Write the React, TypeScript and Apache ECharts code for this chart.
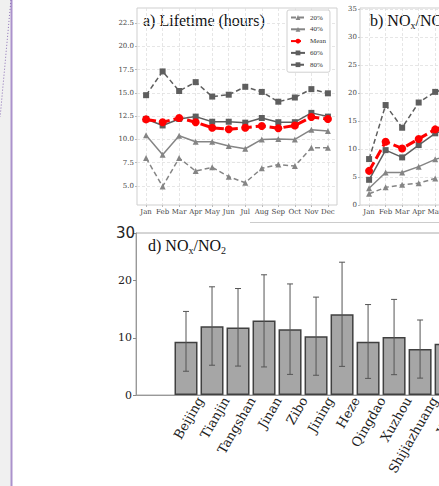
import React, { useEffect, useRef } from "react";
import * as echarts from "echarts";

// ---- data ----
const months = ["Jan", "Feb", "Mar", "Apr", "May", "Jun", "Jul", "Aug", "Sep", "Oct", "Nov", "Dec"];
const lifeTicks = [5, 7.5, 10, 12.5, 15, 17.5, 20, 22.5];
const lifeP20 = [8.0, 4.95, 8.0, 6.6, 7.0, 6.0, 5.35, 6.9, 7.3, 7.15, 9.1, 9.1];
const lifeP40 = [10.45, 8.35, 10.4, 9.75, 9.75, 9.3, 9.0, 10.0, 10.05, 10.0, 11.05, 10.9];
const lifeMean = [12.15, 11.85, 12.3, 11.85, 11.25, 11.1, 11.25, 11.45, 11.2, 11.5, 12.4, 12.2];
const lifeP60 = [12.2, 11.5, 12.2, 12.45, 11.9, 11.9, 11.8, 12.3, 11.85, 11.85, 12.85, 12.45];
const lifeP80 = [14.75, 17.3, 15.2, 16.15, 14.6, 14.8, 15.65, 15.1, 14.05, 14.5, 15.4, 14.95];

const ratioTicks = [0, 5, 10, 15, 20, 25, 30, 35];
const ratioP20 = [2.0, 3.15, 3.6, 3.9, 4.75, 5.2];
const ratioP40 = [3.0, 5.8, 5.8, 6.85, 8.15, 9.0];
const ratioMean = [6.1, 11.3, 10.1, 11.8, 13.5, 14.5];
const ratioP60 = [4.5, 9.8, 8.5, 10.7, 12.8, 13.8];
const ratioP80 = [8.2, 17.85, 13.8, 18.3, 20.2, 21.0];

const cities = ["Beijing", "Tianjin", "Tangshan", "Jinan", "Zibo", "Jining", "Heze", "Qingdao", "Xuzhou", "Shijiazhuang", "Yantai"];
const cityRatio = [9.3, 12.0, 11.8, 13.0, 11.5, 10.25, 14.1, 9.3, 10.15, 8.05, 8.95];
const cityLow = [4.15, 5.2, 5.05, 4.9, 3.6, 3.45, 5.0, 2.9, 3.55, 2.95];
const cityHigh = [14.6, 18.9, 18.6, 21.0, 19.4, 17.1, 23.2, 15.8, 16.7, 13.1];
const cityTicks = [0, 10, 20];

const SERIF_T = "Liberation Serif";
const SERIF_D = "DejaVu Serif";
const LABEL_SHIFT = 0.55;

function pctSeries(name: string, data: number[], xi: number, kind: string) {
  const base: any = {
    name,
    type: "line",
    xAxisIndex: xi,
    yAxisIndex: xi,
    data: data.map((v, i) => [i, v]),
    symbolSize: 6,
    lineStyle: { width: 1.5 },
  };
  if (kind === "p20") {
    base.symbol = "triangle";
    base.itemStyle = { color: "#858585" };
    base.lineStyle = { width: 1.5, color: "#858585", type: [5, 3] };
  } else if (kind === "p40") {
    base.symbol = "triangle";
    base.itemStyle = { color: "#858585" };
    base.lineStyle = { width: 1.5, color: "#858585" };
  } else if (kind === "mean") {
    base.symbol = "circle";
    base.symbolSize = 8;
    base.z = 4;
    base.itemStyle = { color: "#ff0000" };
    base.lineStyle = { width: 3, color: "#ff0000", type: [10, 4] };
  } else if (kind === "p60") {
    base.symbol = "rect";
    base.itemStyle = { color: "#5e5e5e" };
    base.lineStyle = { width: 1.5, color: "#5e5e5e" };
  } else {
    base.symbol = "rect";
    base.itemStyle = { color: "#5e5e5e" };
    base.lineStyle = { width: 1.5, color: "#5e5e5e", type: [5, 3] };
  }
  return base;
}

export default function App() {
  const ref = useRef<HTMLDivElement>(null);
  useEffect(() => {
    if (!ref.current) return;
    const chart = echarts.init(ref.current, null, { renderer: "svg" });
    const monthIdx = months.map((_, i) => i);
    const tickStyleSmall = { fontFamily: SERIF_D, fontSize: 7, color: "#444" };
    const splitDash = { show: true, lineStyle: { color: "#e0e0e0", type: [3, 2], width: 0.8 } };
    const gridBase = { show: true, borderWidth: 1, backgroundColor: "transparent", outerBoundsMode: "none", containLabel: false };

    const option: any = {
      animation: false,
      backgroundColor: "#ffffff",
      grid: [
        { ...gridBase, left: 137, top: 8, width: 200, height: 197, borderColor: "#cfcfcf" },
        { ...gridBase, left: 360, top: 8, width: 200, height: 197, borderColor: "#cfcfcf" },
        { ...gridBase, left: 136, top: 233, width: 340, height: 162, borderColor: "#aaaaaa" },
      ],
      xAxis: [
        {
          gridIndex: 0, type: "value", min: -0.55, max: 11.55,
          axisLine: { show: false, onZero: false },
          axisTick: { show: true, customValues: monthIdx, length: 2, lineStyle: { color: "#bbb" } },
          axisLabel: { customValues: monthIdx, formatter: (v: number) => months[Math.round(v)] ?? "", margin: 3, ...tickStyleSmall },
          splitLine: splitDash,
        },
        {
          gridIndex: 1, type: "value", min: -0.55, max: 11.55,
          axisLine: { show: false, onZero: false },
          axisTick: { show: true, customValues: monthIdx, length: 2, lineStyle: { color: "#bbb" } },
          axisLabel: { customValues: monthIdx, formatter: (v: number) => months[Math.round(v)] ?? "", margin: 3, ...tickStyleSmall },
          splitLine: splitDash,
        },
        {
          gridIndex: 2, type: "value", min: -1.923, max: 11.15,
          axisLine: { show: true, onZero: false, lineStyle: { color: "#999", width: 1 } },
          axisTick: { show: true, inside: true, customValues: cities.map((_, i) => i), length: 2, lineStyle: { color: "#666" } },
          axisLabel: {
            customValues: cities.map((_, i) => i + LABEL_SHIFT),
            formatter: (v: number) => cities[Math.round(v - LABEL_SHIFT)] ?? "",
            rotate: 60, margin: 3, fontFamily: SERIF_D, fontSize: 13, color: "#222",
          },
          splitLine: { show: false },
        },
      ],
      yAxis: [
        {
          gridIndex: 0, type: "value", min: 2.96, max: 24.11,
          axisLine: { show: false, onZero: false },
          axisTick: { show: true, customValues: lifeTicks, length: 2, lineStyle: { color: "#bbb" } },
          axisLabel: { customValues: lifeTicks, formatter: (v: number) => v.toFixed(1), margin: 3, ...tickStyleSmall },
          splitLine: splitDash,
        },
        {
          gridIndex: 1, type: "value", min: 0, max: 35.18,
          axisLine: { show: false, onZero: false },
          axisTick: { show: true, customValues: ratioTicks, length: 2, lineStyle: { color: "#bbb" } },
          axisLabel: { customValues: ratioTicks, formatter: (v: number) => String(v), margin: 3, ...tickStyleSmall },
          splitLine: splitDash,
        },
        {
          gridIndex: 2, type: "value", min: 0, max: 28.3,
          axisLine: { show: true, onZero: false, lineStyle: { color: "#999", width: 1 } },
          axisTick: { show: true, customValues: cityTicks, length: 3, lineStyle: { color: "#888" } },
          axisLabel: { customValues: cityTicks, formatter: (v: number) => String(v), margin: 4, fontFamily: SERIF_D, fontSize: 11, color: "#222" },
          splitLine: { show: false },
        },
      ],
      legend: {
        data: ["20%", "40%", "Mean", "60%", "80%"],
        orient: "vertical",
        left: 287, top: 10,
        itemWidth: 14, itemHeight: 6, itemGap: 4.8,
        padding: [4, 4, 4, 3],
        borderColor: "#d0d0d0", borderWidth: 1, borderRadius: 2,
        backgroundColor: "#ffffff",
        textStyle: { fontFamily: SERIF_T, fontSize: 7, color: "#333", lineHeight: 6 },
      },
      series: [
        pctSeries("20%", lifeP20, 0, "p20"),
        pctSeries("40%", lifeP40, 0, "p40"),
        pctSeries("Mean", lifeMean, 0, "mean"),
        pctSeries("60%", lifeP60, 0, "p60"),
        pctSeries("80%", lifeP80, 0, "p80"),
        pctSeries("20%", ratioP20, 1, "p20"),
        pctSeries("40%", ratioP40, 1, "p40"),
        pctSeries("Mean", ratioMean, 1, "mean"),
        pctSeries("60%", ratioP60, 1, "p60"),
        pctSeries("80%", ratioP80, 1, "p80"),
        {
          name: "cityBars", type: "bar", xAxisIndex: 2, yAxisIndex: 2,
          data: cityRatio.map((v, i) => [i, v]),
          barWidth: 23,
          itemStyle: { color: "#a6a6a6", borderColor: "#404040", borderWidth: 1.5 },
        },
        {
          name: "cityErr", type: "custom", xAxisIndex: 2, yAxisIndex: 2, z: 5,
          encode: { x: 0, y: [1, 2] },
          data: cityLow.map((lo, i) => [i, lo, cityHigh[i]]),
          renderItem: (params: any, api: any) => {
            const x = api.value(0);
            const lo = api.coord([x, api.value(1)]);
            const hi = api.coord([x, api.value(2)]);
            const cw = 3;
            const st = { stroke: "#555555", lineWidth: 1 };
            return {
              type: "group",
              children: [
                { type: "line", shape: { x1: lo[0], y1: lo[1], x2: hi[0], y2: hi[1] }, style: st },
                { type: "line", shape: { x1: hi[0] - cw, y1: hi[1], x2: hi[0] + cw, y2: hi[1] }, style: st },
                { type: "line", shape: { x1: lo[0] - cw, y1: lo[1], x2: lo[0] + cw, y2: lo[1] }, style: st },
              ],
            };
          },
        },
      ],
      graphic: [
        { type: "rect", shape: { x: 0, y: 0, width: 11, height: 486 }, style: { fill: "#f0f0f0" }, silent: true },
        { type: "line", shape: { x1: 11.5, y1: 0, x2: 11.5, y2: 486 }, style: { stroke: "#ab92cc", lineWidth: 2 }, silent: true },
        {
          type: "polyline",
          shape: { points: [[11, 0], [9.5, 15], [8, 32], [6.3, 50], [4.5, 70], [2.6, 90], [0.8, 110], [0, 117]] },
          style: { stroke: "#8a6db5", lineWidth: 1, lineDash: [1, 2], fill: null },
          silent: true,
        },
        { type: "line", shape: { x1: 250, y1: 222.5, x2: 439, y2: 222.5 }, style: { stroke: "#cccccc", lineWidth: 1 }, silent: true },
        { type: "line", shape: { x1: 133, y1: 233.5, x2: 136, y2: 233.5 }, style: { stroke: "#888", lineWidth: 1 }, silent: true },
        {
          type: "text", left: 143, top: 12,
          style: { text: "a) Lifetime (hours)", font: `16px "${SERIF_T}"`, fill: "#111" },
          silent: true,
        },
        {
          type: "text", left: 370, top: 12,
          style: {
            text: "{m|b) NO}{s|x}{m|/NO}{s|2}",
            rich: {
              m: { fontFamily: SERIF_T, fontSize: 16, lineHeight: 18, verticalAlign: "top", fill: "#111" },
              s: { fontFamily: SERIF_T, fontSize: 10, lineHeight: 8, verticalAlign: "bottom", fill: "#111" },
            },
          },
          silent: true,
        },
        {
          type: "text", left: 148, top: 237,
          style: {
            text: "{m|d) NO}{s|x}{m|/NO}{s|2}",
            rich: {
              m: { fontFamily: SERIF_T, fontSize: 16, lineHeight: 18, verticalAlign: "top", fill: "#111" },
              s: { fontFamily: SERIF_T, fontSize: 10, lineHeight: 8, verticalAlign: "bottom", fill: "#111" },
            },
          },
          silent: true,
        },
        {
          type: "text", left: 116, top: 225,
          style: { text: "30", font: `15px "DejaVu Sans"`, fill: "#222" },
          silent: true,
        },
      ],
    };
    chart.setOption(option);
    return () => chart.dispose();
  }, []);
  return <div ref={ref} style={{ position: "fixed", left: 0, top: 0, width: 439, height: 486 }} />;
}
